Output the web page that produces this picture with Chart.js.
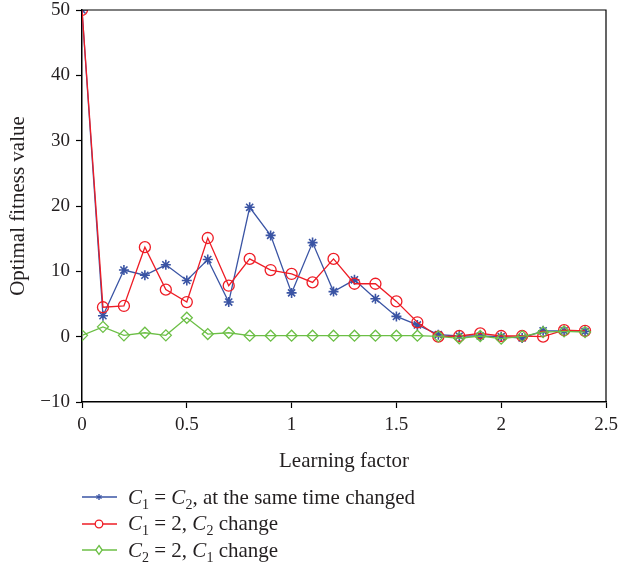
<!DOCTYPE html>
<html>
<head>
<meta charset="utf-8">
<script src="https://cdn.jsdelivr.net/npm/chart.js@4.4.1/dist/chart.umd.min.js"></script>
<style>
  html, body { margin: 0; padding: 0; background: #fff; }
  #wrap { position: relative; width: 620px; height: 569px; }
  #legend { position: absolute; left: 82px; top: 484px; font-family: 'Liberation Serif', 'DejaVu Serif', serif; font-size: 21px; color: #231f20; }
  .row { height: 26.5px; display: flex; align-items: center; white-space: nowrap; }
  .row svg { margin-right: 11px; flex: none; }
  sub { font-size: 14px; vertical-align: -5px; line-height: 0; }
</style>
</head>
<body>
<div id="wrap">
  <canvas id="c" width="620" height="569"></canvas>
  <div id="legend"></div>
</div>
<script>
const xs = [0, 0.1, 0.2, 0.3, 0.4, 0.5, 0.6, 0.7, 0.8, 0.9, 1.0, 1.1, 1.2, 1.3, 1.4, 1.5, 1.6, 1.7, 1.8, 1.9, 2.0, 2.1, 2.2, 2.3, 2.4];
const sameTime = [50, 3.2, 10.2, 9.4, 11.0, 8.6, 11.8, 5.3, 19.8, 15.5, 6.7, 14.4, 6.9, 8.7, 5.8, 3.1, 1.8, 0.3, 0.1, 0.1, 0, -0.2, 0.9, 0.9, 0.8];
const c1Fixed = [50, 4.5, 4.7, 13.7, 7.2, 5.3, 15.1, 7.8, 11.9, 10.2, 9.6, 8.3, 11.9, 8.1, 8.1, 5.4, 2.2, 0, 0.1, 0.5, 0.1, 0.1, 0, 1.0, 0.9];
const c2Fixed = [0.2, 1.5, 0.2, 0.6, 0.2, 2.9, 0.4, 0.6, 0.15, 0.15, 0.15, 0.15, 0.15, 0.15, 0.15, 0.15, 0.15, 0.05, -0.25, 0.1, -0.3, 0.05, 0.7, 0.8, 0.7];
const seriesNames = ['C1 = C2, at the same time changed', 'C1 = 2, C2 change', 'C2 = 2, C1 change'];
const xTicks = [0, 0.5, 1, 1.5, 2, 2.5];
const yTicks = [-10, 0, 10, 20, 30, 40, 50];

const BLUE = '#3a54a4', RED = '#ee1c25', GREEN = '#6cbf46';
const FONT = "'Liberation Serif', 'DejaVu Serif', serif";
const TXT = '#231f20';

function pts(arr) { return xs.map((x, i) => ({ x: x, y: arr[i] })); }

const frame = {
  id: 'frame',
  afterDatasetsDraw(chart) {
    const a = chart.chartArea, ctx = chart.ctx;
    ctx.save();
    ctx.strokeStyle = '#000';
    ctx.lineWidth = 1.2;
    ctx.beginPath();
    ctx.moveTo(a.left, a.top);
    ctx.lineTo(a.right, a.top);
    ctx.lineTo(a.right, a.bottom);
    ctx.stroke();
    ctx.restore();
  }
};

function noPad(s) { s.paddingLeft = 0; s.paddingRight = 0; s.paddingTop = 0; s.paddingBottom = 0; }

new Chart(document.getElementById('c'), {
  type: 'line',
  data: {
    datasets: [
      { label: seriesNames[0], data: pts(sameTime), borderColor: BLUE, backgroundColor: BLUE,
        borderWidth: 1.3, pointStyle: 'star', pointRadius: 5, pointBorderWidth: 1.6, pointBorderColor: BLUE, tension: 0, order: 3 },
      { label: seriesNames[1], data: pts(c1Fixed), borderColor: RED, backgroundColor: 'rgba(0,0,0,0)',
        borderWidth: 1.3, pointStyle: 'circle', pointRadius: 5.5, pointBorderWidth: 1.3, tension: 0, order: 2 },
      { label: seriesNames[2], data: pts(c2Fixed), borderColor: GREEN, backgroundColor: 'rgba(0,0,0,0)',
        borderWidth: 1.3, pointStyle: 'rectRot', pointRadius: 5.5, pointBorderWidth: 1.3, tension: 0, order: 1 }
    ]
  },
  options: {
    responsive: false,
    animation: false,
    layout: { padding: { top: 10, right: 14, bottom: 91, left: 0 } },
    plugins: { legend: { display: false }, tooltip: { enabled: false } },
    scales: {
      x: {
        type: 'linear', min: 0, max: 2.5,
        afterBuildTicks(s) { s.ticks = xTicks.map(v => ({ value: v })); },
        afterFit(s) { s.height = 76; noPad(s); },
        grid: { drawOnChartArea: false, drawTicks: true, tickLength: 6, tickColor: '#000', tickWidth: 1.2 },
        border: { display: true, color: '#000', width: 1.5 },
        ticks: { color: TXT, font: { family: FONT, size: 19 }, padding: 6, maxRotation: 0,
                 callback: v => String(v) },
        title: { display: true, text: 'Learning factor', color: TXT, font: { family: FONT, size: 21 }, padding: { top: 0, bottom: 4 } }
      },
      y: {
        type: 'linear', min: -10, max: 50,
        afterBuildTicks(s) { s.ticks = yTicks.map(v => ({ value: v })); },
        afterFit(s) { s.width = 82; noPad(s); },
        grid: { drawOnChartArea: false, drawTicks: true, tickLength: 6, tickColor: '#000', tickWidth: 1.2 },
        border: { display: true, color: '#000', width: 1.5 },
        ticks: { color: TXT, font: { family: FONT, size: 19 }, padding: 6,
                 callback: v => v < 0 ? '\u2212' + Math.abs(v) : String(v) },
        title: { display: true, text: 'Optimal fitness value', color: TXT, font: { family: FONT, size: 21 }, padding: { top: 6, bottom: 0 } }
      }
    }
  },
  plugins: [frame]
});

// HTML legend
function icon(kind, color) {
  let m = '';
  if (kind === 'star') {
    m = `<g stroke="${color}" stroke-width="1.4"><line x1="17" y1="4" x2="17" y2="10"/><line x1="14.4" y1="5.5" x2="19.6" y2="8.5"/><line x1="14.4" y1="8.5" x2="19.6" y2="5.5"/></g>`;
  } else if (kind === 'circle') {
    m = `<circle cx="17" cy="7" r="3.8" fill="#fff" stroke="${color}" stroke-width="1.3"/>`;
  } else {
    m = `<polygon points="17,2.5 20.2,7 17,11.5 13.8,7" fill="#fff" stroke="${color}" stroke-width="1.3"/>`;
  }
  return `<svg width="35" height="14" viewBox="0 0 35 14"><line x1="0" y1="7" x2="35" y2="7" stroke="${color}" stroke-width="1.4"/>${m}</svg>`;
}
const legendHtml = [
  [icon('star', BLUE), '<i>C</i><sub>1</sub> = <i>C</i><sub>2</sub>, at the same time changed'],
  [icon('circle', RED), '<i>C</i><sub>1</sub> = 2, <i>C</i><sub>2</sub> change'],
  [icon('diamond', GREEN), '<i>C</i><sub>2</sub> = 2, <i>C</i><sub>1</sub> change']
];
document.getElementById('legend').innerHTML = legendHtml.map(r => `<div class="row">${r[0]}<span>${r[1]}</span></div>`).join('');
</script>
</body>
</html>
